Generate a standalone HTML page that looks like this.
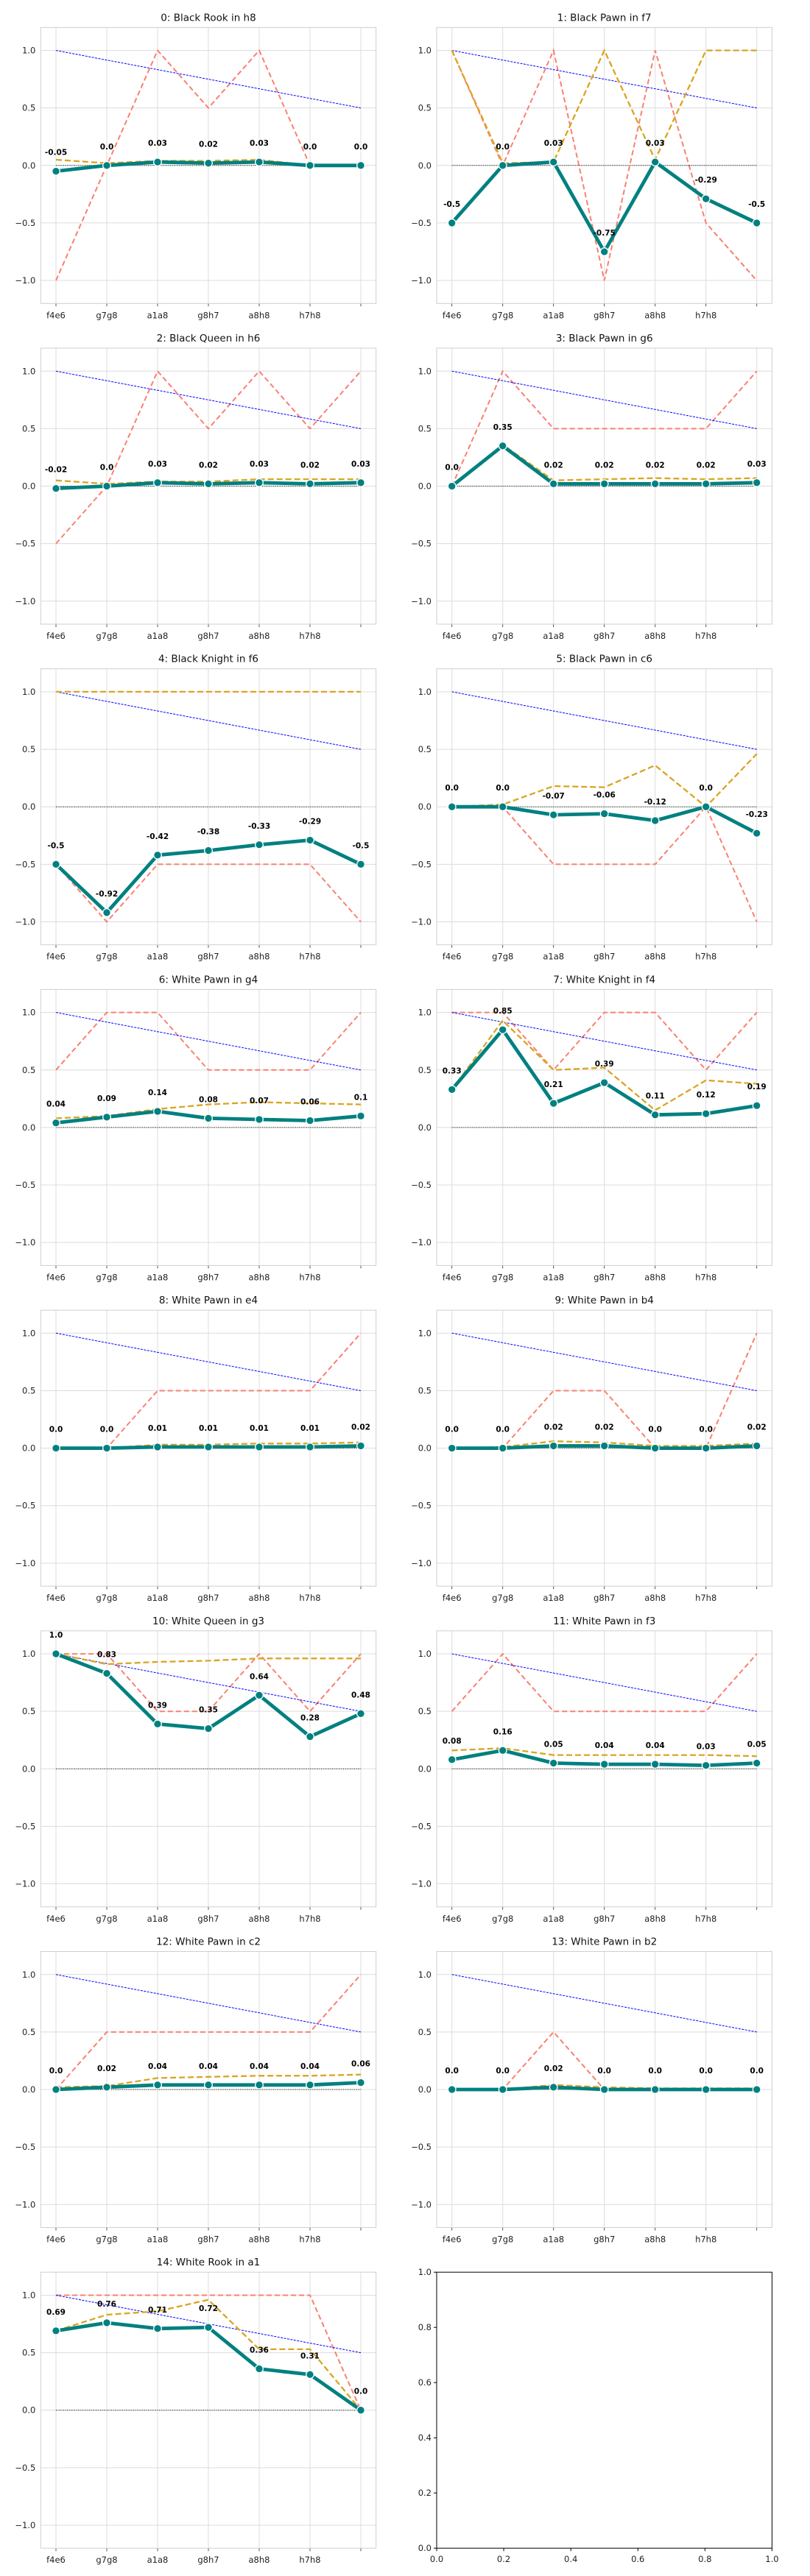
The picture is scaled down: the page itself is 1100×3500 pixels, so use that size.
<!DOCTYPE html>
<html><head><meta charset="utf-8">
<style>
html,body{margin:0;padding:0;background:#fff;}
svg{display:block;font-family:"DejaVu Sans","Liberation Sans",sans-serif;}
</style></head>
<body>
<svg id="fig" width="1100" height="3500" viewBox="0 0 1100 3500" xmlns="http://www.w3.org/2000/svg"></svg>
<script>
const categories = ["f4e6","g7g8","a1a8","g8h7","a8h8","h7h8",""];
const titles = ["0: Black Rook in h8","1: Black Pawn in f7","2: Black Queen in h6","3: Black Pawn in g6","4: Black Knight in f6","5: Black Pawn in c6","6: White Pawn in g4","7: White Knight in f4","8: White Pawn in e4","9: White Pawn in b4","10: White Queen in g3","11: White Pawn in f3","12: White Pawn in c2","13: White Pawn in b2","14: White Rook in a1"];
const tealValues = [
 [-0.05,0,0.03,0.02,0.03,0,0],
 [-0.5,0,0.03,-0.75,0.03,-0.29,-0.5],
 [-0.02,0,0.03,0.02,0.03,0.02,0.03],
 [0,0.35,0.02,0.02,0.02,0.02,0.03],
 [-0.5,-0.92,-0.42,-0.38,-0.33,-0.29,-0.5],
 [0,0,-0.07,-0.06,-0.12,0,-0.23],
 [0.04,0.09,0.14,0.08,0.07,0.06,0.1],
 [0.33,0.85,0.21,0.39,0.11,0.12,0.19],
 [0,0,0.01,0.01,0.01,0.01,0.02],
 [0,0,0.02,0.02,0,0,0.02],
 [1,0.83,0.39,0.35,0.64,0.28,0.48],
 [0.08,0.16,0.05,0.04,0.04,0.03,0.05],
 [0,0.02,0.04,0.04,0.04,0.04,0.06],
 [0,0,0.02,0,0,0,0],
 [0.69,0.76,0.71,0.72,0.36,0.31,0]
];
const orangeValues = [
 [0.05,0.02,0.04,0.04,0.05,0,0],
 [1,0.02,0.03,1,0.05,1,1],
 [0.05,0.02,0.04,0.04,0.06,0.06,0.06],
 [0,0.36,0.05,0.06,0.07,0.06,0.07],
 [1,1,1,1,1,1,1],
 [0,0.02,0.18,0.17,0.36,0,0.46],
 [0.08,0.1,0.16,0.2,0.22,0.21,0.2],
 [0.33,0.93,0.5,0.52,0.15,0.41,0.38],
 [0,0,0.03,0.03,0.04,0.04,0.05],
 [0,0.01,0.06,0.05,0.02,0.02,0.04],
 [1,0.91,0.93,0.94,0.96,0.96,0.96],
 [0.16,0.18,0.12,0.12,0.12,0.12,0.11],
 [0.02,0.03,0.1,0.11,0.12,0.12,0.13],
 [0,0,0.04,0.02,0.01,0.01,0.01],
 [0.69,0.83,0.86,0.96,0.53,0.53,0]
];
const salmonValues = [
 [-1,0,1,0.5,1,0,0],
 [1,0,1,-1,1,-0.5,-1],
 [-0.5,0,1,0.5,1,0.5,1],
 [0,1,0.5,0.5,0.5,0.5,1],
 [-0.5,-1,-0.5,-0.5,-0.5,-0.5,-1],
 [0,0,-0.5,-0.5,-0.5,0,-1],
 [0.5,1,1,0.5,0.5,0.5,1],
 [1,1,0.5,1,1,0.5,1],
 [0,0,0.5,0.5,0.5,0.5,1],
 [0,0,0.5,0.5,0,0,1],
 [1,1,0.5,0.5,1,0.5,1],
 [0.5,1,0.5,0.5,0.5,0.5,1],
 [0,0.5,0.5,0.5,0.5,0.5,1],
 [0,0,0.5,0,0,0,0],
 [1,1,1,1,1,1,0]
];
const blueValues = [1,0.9167,0.8333,0.75,0.6667,0.5833,0.5];
const yTicks = [1.0,0.5,0.0,-0.5,-1.0];
const yTickLabels = ["1.0","0.5","0.0","\u22120.5","\u22121.0"];
const emptyTicks = [0,0.2,0.4,0.6,0.8,1.0];
const emptyTickLabels = ["0.0","0.2","0.4","0.6","0.8","1.0"];

const NS="http://www.w3.org/2000/svg";
const svg=document.getElementById('fig');
function mk(tag,attrs,parent){const e=document.createElementNS(NS,tag);for(const k in attrs)e.setAttribute(k,attrs[k]);(parent||svg).appendChild(e);return e;}
function fmt(v){return Number.isInteger(v)?v.toFixed(1):String(v);}
const ROW=435.7, TOP0=37.3, AH=375;
const colL=[55.3,593], AW=455.4;

function drawPanel(i){
  const r=Math.floor(i/2), c=i%2;
  const L=colL[c], T=TOP0+r*ROW, R=L+AW, B=T+AH;
  const x=k=>L+AW*(k+0.3)/6.6;
  const y=v=>T+AH*(1.2-v)/2.4;
  const g=mk('g',{});
  
  
  yTicks.forEach((v,j)=>{
    const gl=mk('line',{x1:L,x2:R,y1:y(v),y2:y(v),stroke:'#dcdcdc','stroke-width':1},g);
    
    
    const t=mk('text',{x:L-7,y:y(v)+4,'text-anchor':'end','font-size':11.5,fill:'#222'},g);
    t.textContent=yTickLabels[j];
    
    
  });
  categories.forEach((cat,k)=>{
    const gl=mk('line',{x1:x(k),x2:x(k),y1:T,y2:B+4,stroke:'#dcdcdc','stroke-width':1},g);
    
    
    mk('line',{x1:x(k),x2:x(k),y1:B,y2:B+4,stroke:'#333','stroke-width':0.8},g);
    const t=mk('text',{x:x(k),y:B+20,'text-anchor':'middle','font-size':11.5,fill:'#222'},g);
    t.textContent=cat;
    
    
  });
  const fr=mk('rect',{x:L,y:T,width:AW,height:AH,fill:'none',stroke:'#cfcfcf','stroke-width':1},g);
  
  
  const tt=mk('text',{x:L+AW/2,y:T-9,'text-anchor':'middle','font-size':13.5,fill:'#111'},g);
  tt.textContent=titles[i];
  
  
  const pts=a=>a.map((v,k)=>x(k).toFixed(1)+','+y(v).toFixed(1)).join(' ');
  const sal=mk('polyline',{points:pts(salmonValues[i]),fill:'none',stroke:'#fa8072','stroke-width':2,'stroke-dasharray':'7,4'},g);
  
  
  const blu=mk('polyline',{points:pts(blueValues),fill:'none',stroke:'#0000ff','stroke-width':1,'stroke-dasharray':'3,1.5'},g);
  
  
  const org=mk('polyline',{points:pts(orangeValues[i]),fill:'none',stroke:'#daa520','stroke-width':2.3,'stroke-dasharray':'8,4'},g);
  
  
  const zl=mk('line',{x1:x(0),x2:x(6),y1:y(0),y2:y(0),stroke:'#000','stroke-width':1,'stroke-dasharray':'1,1.5'},g);
  
  
  const tl=mk('polyline',{points:pts(tealValues[i]),fill:'none',stroke:'#008080','stroke-width':4.8,'stroke-linejoin':'round'},g);
  
  
  tealValues[i].forEach((v,k)=>{
    const m=mk('circle',{cx:x(k),cy:y(v),r:5.3,fill:'#008080',stroke:'#fff','stroke-width':1.3},g);
    
    
  });
  tealValues[i].forEach((v,k)=>{
    const t=mk('text',{x:x(k),y:y(v)-22,'text-anchor':'middle','font-size':10.5,'font-weight':'bold',fill:'#000'},g);
    t.textContent=fmt(v);
    
    
  });
}
for(let i=0;i<titles.length;i++)drawPanel(i);

(function(){
  const L=593, T=TOP0+7*ROW, W=AW, H=AH, B=T+H;
  const g=mk('g',{});
  
  
  const fr=mk('rect',{x:L,y:T,width:W,height:H,fill:'none',stroke:'#000','stroke-width':1},g);
  
  
  emptyTicks.forEach((v,j)=>{
    const yy=B-H*v, xx=L+W*v;
    mk('line',{x1:L-4,x2:L,y1:yy,y2:yy,stroke:'#000','stroke-width':1},g);
    const t=mk('text',{x:L-7,y:yy+4,'text-anchor':'end','font-size':11.5,fill:'#222'},g);
    t.textContent=emptyTickLabels[j];
    
    
    mk('line',{x1:xx,x2:xx,y1:B,y2:B+4,stroke:'#000','stroke-width':1},g);
    const t2=mk('text',{x:xx,y:B+19,'text-anchor':'middle','font-size':11.5,fill:'#222'},g);
    t2.textContent=emptyTickLabels[j];
    
    
  });
})();
</script>
</body></html>
